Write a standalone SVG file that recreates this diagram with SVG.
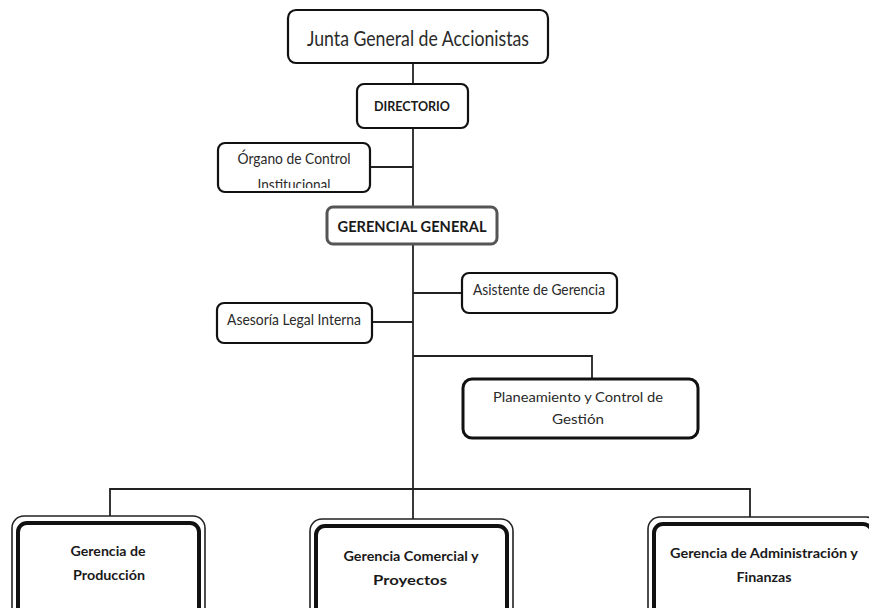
<svg xmlns="http://www.w3.org/2000/svg" width="869" height="608" viewBox="0 0 869 608">
<defs>
<style>
.box{fill:#fff;stroke:#111;stroke-width:2.2}
.thick{fill:#fff;stroke:#111;stroke-width:3}
.outer{fill:#fff;stroke:#222;stroke-width:1.6}
.inner{fill:#fff;stroke:#111;stroke-width:4}
.con{fill:none;stroke:#222;stroke-width:1.8}
.t{font-family:Lato,"Liberation Sans",sans-serif;fill:#2a2a2a}
.b{font-family:Lato,"Liberation Sans",sans-serif;font-weight:bold;fill:#1a1a1a}
</style>
<clipPath id="orgClip"><rect x="218" y="143" width="152" height="45"/></clipPath>
</defs>
<rect width="869" height="608" fill="#fff"/>
<g id="connectors">
<line class="con" x1="413" y1="63" x2="413" y2="84"/>
<line class="con" x1="413" y1="128" x2="413" y2="207"/>
<line class="con" x1="370" y1="167" x2="413" y2="167"/>
<line class="con" x1="413" y1="244" x2="413" y2="520"/>
<line class="con" x1="413" y1="293" x2="462" y2="293"/>
<line class="con" x1="372" y1="322" x2="413" y2="322"/>
<polyline class="con" points="413,356 592,356 592,379"/>
<polyline class="con" points="110,516 110,489 750,489 750,517"/>
</g>
<g id="junta">
<rect class="box" x="288" y="10" width="260" height="53" rx="8"/>
<text class="t" x="418" y="46" font-size="21" text-anchor="middle" textLength="222" lengthAdjust="spacingAndGlyphs">Junta General de Accionistas</text>
</g>
<g id="directorio">
<rect class="box" x="357" y="84" width="111" height="44" rx="7"/>
<text class="b" x="412" y="111" font-size="14" text-anchor="middle" textLength="76" lengthAdjust="spacingAndGlyphs">DIRECTORIO</text>
</g>
<g id="organo">
<rect class="box" x="218" y="143" width="152" height="49" rx="7"/>
<g clip-path="url(#orgClip)">
<text class="t" x="294" y="164" font-size="15" text-anchor="middle" textLength="113" lengthAdjust="spacingAndGlyphs">Órgano de Control</text>
<text class="t" x="294" y="190" font-size="15" text-anchor="middle" textLength="73" lengthAdjust="spacingAndGlyphs">Institucional</text>
</g>
</g>
<g id="gerencial">
<rect x="327" y="207" width="170" height="37" rx="6" fill="#fff" stroke="#555" stroke-width="3"/>
<text class="b" x="412" y="232" font-size="16" text-anchor="middle" textLength="149" lengthAdjust="spacingAndGlyphs">GERENCIAL GENERAL</text>
</g>
<g id="asistente">
<rect class="box" x="462" y="273" width="155" height="40" rx="7"/>
<text class="t" x="473" y="295" font-size="15" textLength="132" lengthAdjust="spacingAndGlyphs">Asistente de Gerencia</text>
</g>
<g id="asesoria">
<rect class="box" x="217" y="303" width="155" height="40" rx="7"/>
<text class="t" x="227" y="325" font-size="15" textLength="134" lengthAdjust="spacingAndGlyphs">Asesoría Legal Interna</text>
</g>
<g id="planeamiento">
<rect class="thick" x="463" y="379" width="235" height="59" rx="9"/>
<text class="t" x="578" y="402" font-size="14" text-anchor="middle" textLength="170" lengthAdjust="spacingAndGlyphs">Planeamiento y Control de</text>
<text class="t" x="578" y="424" font-size="14" text-anchor="middle" textLength="52" lengthAdjust="spacingAndGlyphs">Gestión</text>
</g>
<g id="produccion">
<rect class="outer" x="12" y="516" width="193" height="110" rx="12"/>
<rect class="inner" x="18" y="523" width="181" height="96" rx="9"/>
<text class="b" x="108" y="556" font-size="14" text-anchor="middle" textLength="75" lengthAdjust="spacingAndGlyphs">Gerencia de</text>
<text class="b" x="109" y="580" font-size="14" text-anchor="middle" textLength="72" lengthAdjust="spacingAndGlyphs">Producción</text>
</g>
<g id="comercial">
<rect class="outer" x="310" y="519" width="203" height="110" rx="12"/>
<rect class="inner" x="316" y="526" width="191" height="96" rx="9"/>
<text class="b" x="411" y="561" font-size="14" text-anchor="middle" textLength="135" lengthAdjust="spacingAndGlyphs">Gerencia Comercial y</text>
<text class="b" x="410" y="585" font-size="14" text-anchor="middle" textLength="74" lengthAdjust="spacingAndGlyphs">Proyectos</text>
</g>
<g id="administracion">
<rect class="outer" x="648" y="517" width="230" height="110" rx="12"/>
<rect class="inner" x="654" y="524" width="218" height="96" rx="9"/>
<text class="b" x="764" y="558" font-size="14" text-anchor="middle" textLength="188" lengthAdjust="spacingAndGlyphs">Gerencia  de Administración y</text>
<text class="b" x="764" y="582" font-size="14" text-anchor="middle" textLength="55" lengthAdjust="spacingAndGlyphs">Finanzas</text>
</g>
</svg>
